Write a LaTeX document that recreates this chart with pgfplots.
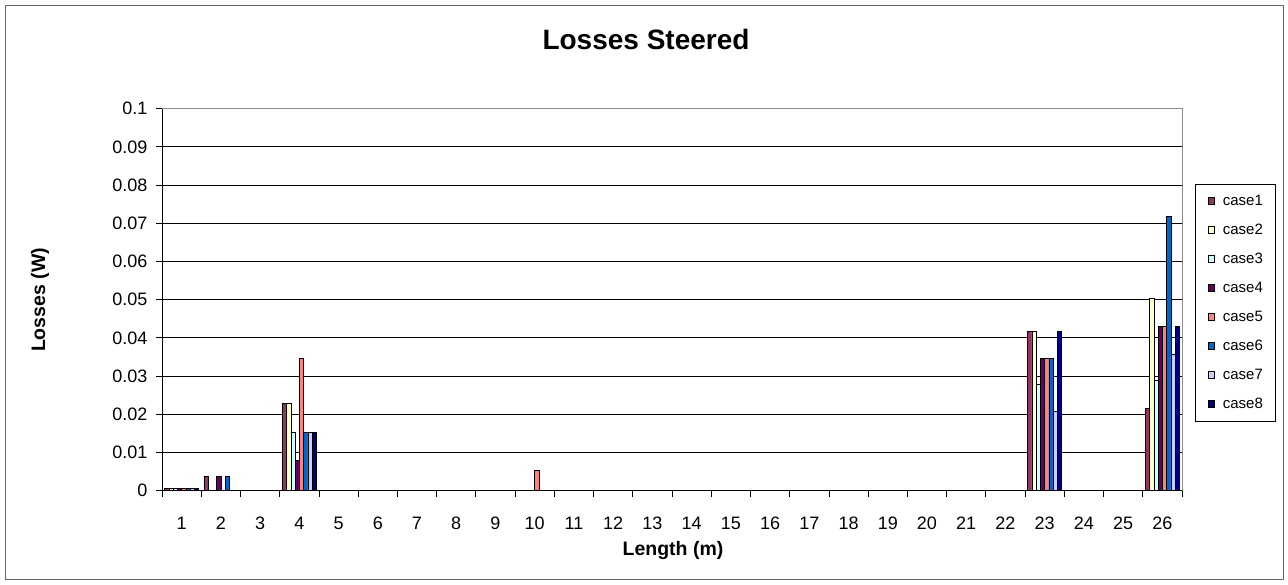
\documentclass[border=0pt]{standalone}
\usepackage{fontspec}
\setmainfont{Liberation Sans}
\usepackage{pgfplots}
\pgfplotsset{compat=1.18}
\definecolor{c1}{HTML}{993366}
\definecolor{c2}{HTML}{FFFFCC}
\definecolor{c3}{HTML}{CCFFFF}
\definecolor{c4}{HTML}{660066}
\definecolor{c5}{HTML}{FF8080}
\definecolor{c6}{HTML}{0066CC}
\definecolor{c7}{HTML}{CCCCFF}
\definecolor{c8}{HTML}{000080}
\begin{document}
\begin{tikzpicture}
\useasboundingbox (0pt,0pt) rectangle (1288pt,585pt);
\draw[black!60, line width=1pt] (5pt,5pt) rectangle (1283pt,579pt);
\node[font=\fontsize{28}{32}\selectfont\bfseries, anchor=base] at (646pt,535pt) {Losses Steered};
\node[font=\fontsize{19.5}{23}\selectfont\bfseries, rotate=90] at (40pt,285pt) {Losses (W)};
\node[font=\fontsize{19.5}{23}\selectfont\bfseries, anchor=base] at (673pt,29pt) {Length (m)};
\begin{axis}[
  at={(162pt,94.3pt)}, anchor=south west,
  scale only axis, width=1020pt, height=382pt,
  xmin=0.5, xmax=26.5, ymin=0, ymax=0.1,
  ybar=0pt, bar width=4.25pt,
  xtick={1,...,26},
  minor xtick={0.5,1.5,...,26.5},
  tick pos=left,
  major x tick style={draw=none},
  minor x tick style={black, line width=0.8pt},
  ytick={0,0.01,...,0.1},
  y tick style={black, line width=0.8pt},
  tick align=outside, major tick length=6pt, minor tick length=6pt,
  ymajorgrids, grid style={black, line width=0.8pt},
  axis line style={black!45, line width=0.8pt},
  tick label style={font=\fontsize{18}{21}\selectfont},
  /pgf/number format/assume math mode=true,
  yticklabel style={/pgf/number format/fixed, /pgf/number format/precision=2, xshift=-5pt},
  xticklabel style={anchor=base, yshift=-33pt},
  legend style={at={(1.0127,0.492)}, anchor=west, draw=black, line width=0.8pt,
    font=\fontsize{15}{18}\selectfont, row sep=15pt, inner xsep=13pt, inner ysep=10pt,
    nodes={inner sep=0pt, text height=11pt, text depth=3pt},
    /tikz/every odd column/.append style={column sep=8pt}},
  legend cell align=left,
  legend image code/.code={\draw[#1, draw=black, line width=0.5pt] (0pt,-3.5pt) rectangle (6pt,3.5pt);},
  every axis plot/.append style={draw=black, line width=0.4pt},
]
\addplot[fill=c1] coordinates {(1,0.0006) (2,0.0038) (4,0.0228) (23,0.0417) (26,0.0216)};
\addplot[fill=c2] coordinates {(1,0.0006) (4,0.0228) (23,0.0417) (26,0.0503)};
\addplot[fill=c3] coordinates {(1,0.0006) (4,0.0153) (23,0.0278) (26,0.0288)};
\addplot[fill=c4] coordinates {(1,0.0006) (2,0.0038) (4,0.0079) (23,0.0346) (26,0.0431)};
\addplot[fill=c5] coordinates {(1,0.0006) (4,0.0347) (10,0.0054) (23,0.0346) (26,0.0431)};
\addplot[fill=c6] coordinates {(1,0.0006) (2,0.0038) (4,0.0153) (23,0.0346) (26,0.0719)};
\addplot[fill=c7] coordinates {(1,0.0006) (4,0.0153) (23,0.0208) (26,0.0358)};
\addplot[fill=c8] coordinates {(1,0.0006) (4,0.0153) (23,0.0417) (26,0.0431)};
\legend{case1,case2,case3,case4,case5,case6,case7,case8}
\draw[black, line width=0.8pt] (rel axis cs:0,0) -- (rel axis cs:0,1);
\draw[black, line width=0.8pt] (rel axis cs:0,0) -- (rel axis cs:1,0);
\end{axis}
\end{tikzpicture}
\end{document}
